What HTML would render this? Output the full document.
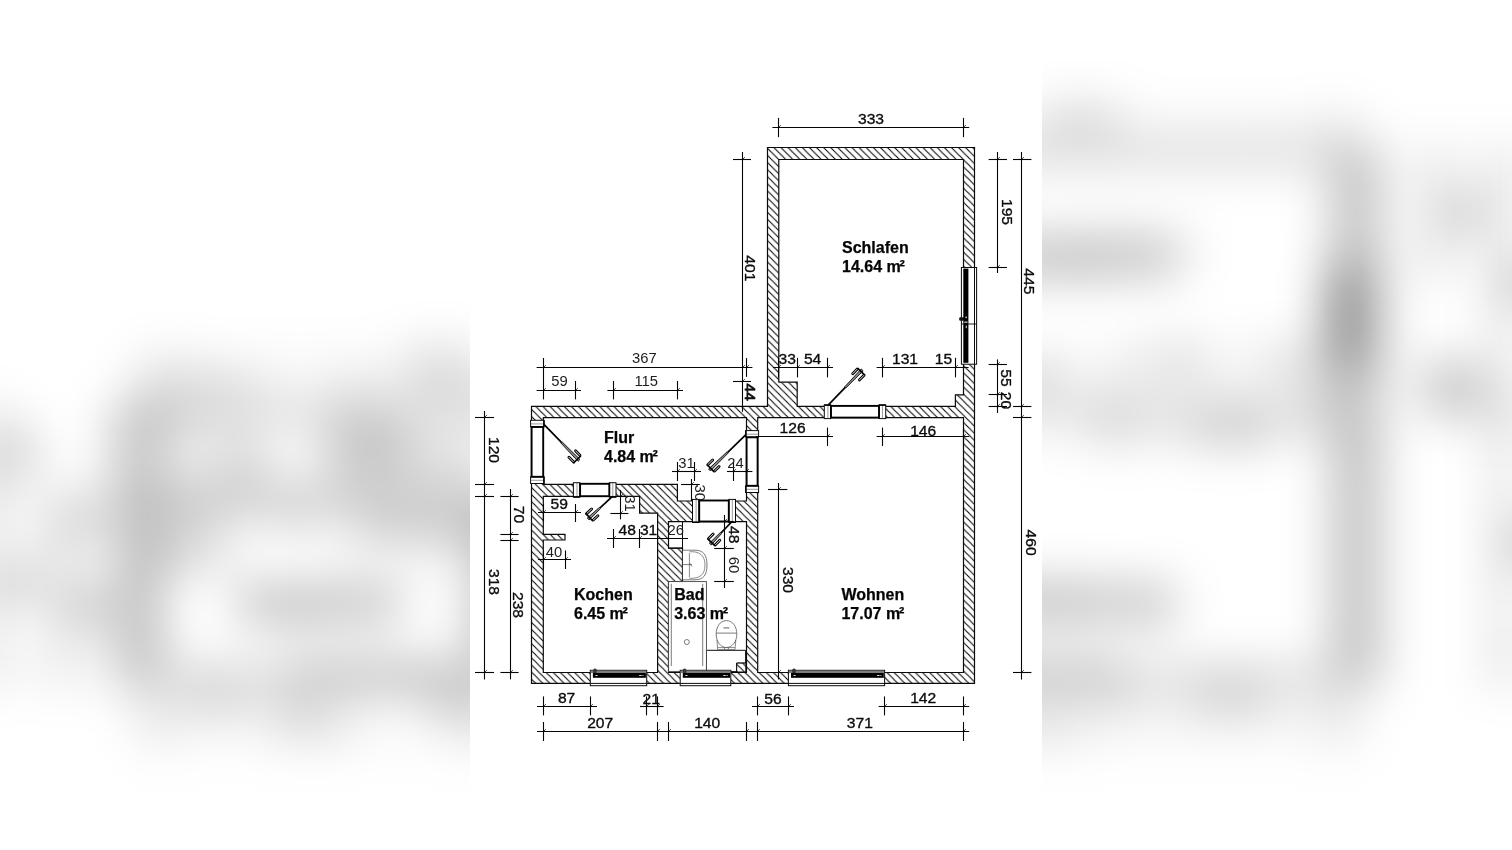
<!DOCTYPE html>
<html><head><meta charset="utf-8"><title>Grundriss</title>
<style>
html,body{margin:0;padding:0;background:#fff;}
body{width:1512px;height:850px;overflow:hidden;position:relative;font-family:"Liberation Sans",sans-serif;}
svg text{font-family:"Liberation Sans",sans-serif;}
#bg{position:absolute;left:0;top:0;width:1512px;height:850px;overflow:hidden;background:#fff;}
#bg svg{position:absolute;left:-50.52px;top:0px;width:1613.04px;height:850px;filter:blur(25px);opacity:1;}
#fg{position:absolute;left:470px;top:0;width:572px;height:850px;background:#fff;will-change:transform;}
</style></head><body>
<svg width="0" height="0" style="position:absolute">
<defs>
<pattern id="hatch" patternUnits="userSpaceOnUse" x="1.5" y="0" width="7.1" height="7.1">
<rect width="7.1" height="7.1" fill="#fff"/>
<path d="M-1 -1 L8.1 8.1 M-1 6.1 L1 8.1 M6.1 -1 L8.1 1" stroke="#000" stroke-width="1.05" fill="none"/>
</pattern>
<g id="plan">
<path d="M767.5 147.5 L974.5 147.5 L974.5 683.4 L531.5 683.4 L531.5 406.4 L767.5 406.4 Z M778.8 159.5 L963.5 159.5 L963.5 394.8 L955.4 394.8 L955.4 406.4 L797.2 406.4 L797.2 382.2 L778.8 382.2 Z M757.7 417.7 L963.5 417.7 L963.5 672.5 L757.7 672.5 Z M543.3 417.7 L746.5 417.7 L746.5 501 L677.4 501 L677.4 484.3 L543.3 484.3 Z M543.3 496.3 L639.6 496.3 L639.6 513.2 L657.6 513.2 L657.6 672.5 L543.3 672.5 L543.3 540 L565 540 L565 534.4 L543.3 534.4 Z M668.5 521.6 L746.5 521.6 L746.5 672.5 L668.5 672.5 L668.5 581.6 L682.5 581.6 L682.5 548.2 L668.5 548.2 Z" fill="url(#hatch)" fill-rule="evenodd" stroke="#0a0a0a" stroke-width="1.2" stroke-linejoin="miter"/>
<line x1="682.5" y1="521.6" x2="682.5" y2="581.6" stroke="#0a0a0a" stroke-width="1.0" />
<line x1="668.5" y1="548.2" x2="682.5" y2="548.2" stroke="#0a0a0a" stroke-width="1.0" />
<path d="M706.4 650.3 L745.6 650.3 L745.6 663.1 L736.7 663.1 L736.7 671.6 L706.4 671.6 Z" stroke="#0a0a0a" stroke-width="1.0" fill="#fff" />
<path d="M736.7 663.1 L745.8 663.1 L745.8 672 L736.7 672 Z" stroke="#0a0a0a" stroke-width="1.0" fill="url(#hatch)" />
<rect x="668.6" y="581.6" width="37.8" height="89.8" stroke="#444" stroke-width="0.9" fill="#fff"/>
<line x1="671.3" y1="583.8" x2="671.3" y2="666" stroke="#5a5a5a" stroke-width="0.8" />
<line x1="702.7" y1="583.8" x2="702.7" y2="666" stroke="#5a5a5a" stroke-width="0.8" />
<circle cx="686.8" cy="642" r="2.5" stroke="#5a5a5a" stroke-width="0.8" fill="none"/>
<path d="M682.8 550.2 L695 550.2 C703.5 550.2 707 555 707 565 C707 575 703.5 579.8 695 579.8 L682.8 579.8" stroke="#5a5a5a" stroke-width="0.8" fill="#fff"/>
<path d="M689.4 553 L689.4 577 M689.4 551.8 C699 551 705 555 705 565 C705 575 699 579 689.4 578.2" stroke="#5a5a5a" stroke-width="0.7" fill="none"/>
<path d="M683 564.6 L692 564.6 M689.4 563 L692 566.5" stroke="#5a5a5a" stroke-width="0.8" fill="none"/>
<path d="M726.4 620.6 C733 620.6 736.8 627 736.8 634 C736.8 642 732 647.5 726.4 647.5 C720.8 647.5 716.2 642 716.2 634 C716.2 627 720 620.6 726.4 620.6 Z" stroke="#5a5a5a" stroke-width="0.8" fill="#fff"/>
<line x1="716.4" y1="633.1" x2="736.6" y2="633.1" stroke="#5a5a5a" stroke-width="0.8" />
<line x1="723.5" y1="627.9" x2="729.4" y2="627.9" stroke="#777" stroke-width="1.2" />
<path d="M717 640 L717.6 649.6 L735 649.6 L735.8 640 M717.6 647.6 L735 647.6 M724.5 647.6 L724.5 649.6 M728.4 647.6 L728.4 649.6" stroke="#5a5a5a" stroke-width="0.7" fill="none"/>
<rect x="824.3" y="405.8" width="61.2" height="12.5" fill="#fff"/>
<rect x="824.3" y="404.8" width="6.5" height="13.8" stroke="#0a0a0a" stroke-width="1.0" fill="#fff"/>
<rect x="879" y="404.8" width="6.7" height="13.8" stroke="#0a0a0a" stroke-width="1.0" fill="#fff"/>
<line x1="827.9" y1="405" x2="827.9" y2="418.5" stroke="#555" stroke-width="0.6" />
<line x1="882.5" y1="405" x2="882.5" y2="418.5" stroke="#555" stroke-width="0.6" />
<rect x="831" y="405.9" width="48" height="11.7" stroke="#000" stroke-width="1.9" fill="#fff"/>
<line x1="824.3" y1="405.2" x2="830.8" y2="405.2" stroke="#000" stroke-width="1.4" />
<line x1="879" y1="405.2" x2="885.7" y2="405.2" stroke="#000" stroke-width="1.4" />
<line x1="828.4" y1="404.9" x2="845.3" y2="387.4" stroke="#000" stroke-width="1.7" />
<path d="M845.88 387.96 L863.17 370.84 L861.23 368.96 L844.72 386.84 Z" stroke="#000" stroke-width="0.85" fill="#8a8a8a" />
<line x1="859.34" y1="380.06" x2="864.06" y2="375.17" stroke="#000" stroke-width="2.9" stroke-linecap="round"/>
<line x1="859.34" y1="380.06" x2="864.06" y2="375.17" stroke="#fff" stroke-width="0.9" stroke-linecap="round"/>
<line x1="852.72" y1="373.67" x2="857.09" y2="369.14" stroke="#000" stroke-width="2.9" stroke-linecap="round"/>
<line x1="852.72" y1="373.67" x2="857.09" y2="369.14" stroke="#fff" stroke-width="0.9" stroke-linecap="round"/>
<line x1="857.5" y1="368.14" x2="864.7" y2="375.09" stroke="#000" stroke-width="1.7" />
<rect x="530.9" y="420.3" width="13" height="63" fill="#fff"/>
<rect x="530.6" y="420.3" width="13.6" height="6.5" stroke="#0a0a0a" stroke-width="1.0" fill="#fff"/>
<rect x="530.6" y="476.8" width="13.6" height="6.7" stroke="#0a0a0a" stroke-width="1.0" fill="#fff"/>
<line x1="530.7" y1="423.9" x2="544.1" y2="423.9" stroke="#555" stroke-width="0.6" />
<line x1="530.7" y1="480.3" x2="544.1" y2="480.3" stroke="#555" stroke-width="0.6" />
<rect x="531.6" y="427" width="11.6" height="49.8" stroke="#000" stroke-width="1.9" fill="#fff"/>
<line x1="543.8" y1="420.3" x2="543.8" y2="426.8" stroke="#000" stroke-width="1.4" />
<line x1="543.8" y1="476.8" x2="543.8" y2="483.5" stroke="#000" stroke-width="1.4" />
<line x1="543.9" y1="424.4" x2="561.45" y2="442.4" stroke="#000" stroke-width="1.7" />
<path d="M560.87 442.97 L578.03 461.34 L579.97 459.46 L562.03 441.83 Z" stroke="#000" stroke-width="0.85" fill="#8a8a8a" />
<line x1="568.93" y1="457.23" x2="573.67" y2="462.1" stroke="#000" stroke-width="2.9" stroke-linecap="round"/>
<line x1="568.93" y1="457.23" x2="573.67" y2="462.1" stroke="#fff" stroke-width="0.9" stroke-linecap="round"/>
<line x1="575.51" y1="450.81" x2="579.91" y2="455.32" stroke="#000" stroke-width="2.9" stroke-linecap="round"/>
<line x1="575.51" y1="450.81" x2="579.91" y2="455.32" stroke="#fff" stroke-width="0.9" stroke-linecap="round"/>
<line x1="580.9" y1="455.76" x2="573.74" y2="462.74" stroke="#000" stroke-width="1.7" />
<rect x="745.9" y="430.6" width="12.4" height="61.7" fill="#fff"/>
<rect x="745.6" y="430.6" width="13" height="6.5" stroke="#0a0a0a" stroke-width="1.0" fill="#fff"/>
<rect x="745.6" y="485.8" width="13" height="6.7" stroke="#0a0a0a" stroke-width="1.0" fill="#fff"/>
<line x1="745.7" y1="434.2" x2="758.5" y2="434.2" stroke="#555" stroke-width="0.6" />
<line x1="745.7" y1="489.3" x2="758.5" y2="489.3" stroke="#555" stroke-width="0.6" />
<rect x="746.6" y="437.3" width="11" height="48.5" stroke="#000" stroke-width="1.9" fill="#fff"/>
<line x1="746" y1="430.6" x2="746" y2="437.1" stroke="#000" stroke-width="1.4" />
<line x1="746" y1="485.8" x2="746" y2="492.5" stroke="#000" stroke-width="1.4" />
<line x1="745.9" y1="434.7" x2="727.7" y2="452.35" stroke="#000" stroke-width="1.7" />
<path d="M727.14 451.77 L708.56 469.03 L710.44 470.97 L728.26 452.93 Z" stroke="#000" stroke-width="0.85" fill="#8a8a8a" />
<line x1="712.7" y1="459.94" x2="707.81" y2="464.67" stroke="#000" stroke-width="2.9" stroke-linecap="round"/>
<line x1="712.7" y1="459.94" x2="707.81" y2="464.67" stroke="#fff" stroke-width="0.9" stroke-linecap="round"/>
<line x1="719.1" y1="466.54" x2="714.58" y2="470.93" stroke="#000" stroke-width="2.9" stroke-linecap="round"/>
<line x1="719.1" y1="466.54" x2="714.58" y2="470.93" stroke="#fff" stroke-width="0.9" stroke-linecap="round"/>
<line x1="714.14" y1="471.91" x2="707.18" y2="464.73" stroke="#000" stroke-width="1.7" />
<rect x="573.4" y="483.7" width="42.4" height="13.2" fill="#fff"/>
<rect x="573.4" y="482.7" width="6.5" height="14.5" stroke="#0a0a0a" stroke-width="1.0" fill="#fff"/>
<rect x="609.3" y="482.7" width="6.7" height="14.5" stroke="#0a0a0a" stroke-width="1.0" fill="#fff"/>
<line x1="577" y1="482.9" x2="577" y2="497.1" stroke="#555" stroke-width="0.6" />
<line x1="612.8" y1="482.9" x2="612.8" y2="497.1" stroke="#555" stroke-width="0.6" />
<rect x="580.1" y="483.8" width="29.2" height="12.4" stroke="#000" stroke-width="1.9" fill="#fff"/>
<line x1="573.4" y1="496.8" x2="579.9" y2="496.8" stroke="#000" stroke-width="1.4" />
<line x1="609.3" y1="496.8" x2="616" y2="496.8" stroke="#000" stroke-width="1.4" />
<line x1="611.9" y1="496.9" x2="600.05" y2="507.95" stroke="#000" stroke-width="1.7" />
<path d="M599.5 507.36 L587.28 518.01 L589.12 519.99 L600.6 508.54 Z" stroke="#000" stroke-width="0.85" fill="#8a8a8a" />
<line x1="591.59" y1="509" x2="586.62" y2="513.64" stroke="#000" stroke-width="2.9" stroke-linecap="round"/>
<line x1="591.59" y1="509" x2="586.62" y2="513.64" stroke="#fff" stroke-width="0.9" stroke-linecap="round"/>
<line x1="597.87" y1="515.73" x2="593.26" y2="520.03" stroke="#000" stroke-width="2.9" stroke-linecap="round"/>
<line x1="597.87" y1="515.73" x2="593.26" y2="520.03" stroke="#fff" stroke-width="0.9" stroke-linecap="round"/>
<line x1="592.8" y1="521" x2="585.98" y2="513.69" stroke="#000" stroke-width="1.7" />
<rect x="692.5" y="500.4" width="42.8" height="21.8" fill="#fff"/>
<rect x="692.5" y="499.4" width="6.5" height="23.1" stroke="#0a0a0a" stroke-width="1.0" fill="#fff"/>
<rect x="728.8" y="499.4" width="6.7" height="23.1" stroke="#0a0a0a" stroke-width="1.0" fill="#fff"/>
<line x1="696.1" y1="499.6" x2="696.1" y2="522.4" stroke="#555" stroke-width="0.6" />
<line x1="732.3" y1="499.6" x2="732.3" y2="522.4" stroke="#555" stroke-width="0.6" />
<rect x="699.2" y="500.5" width="29.6" height="21" stroke="#000" stroke-width="1.9" fill="#fff"/>
<line x1="692.5" y1="522.1" x2="699" y2="522.1" stroke="#000" stroke-width="1.4" />
<line x1="728.8" y1="522.1" x2="735.5" y2="522.1" stroke="#000" stroke-width="1.4" />
<line x1="731.4" y1="522.2" x2="720.85" y2="533.15" stroke="#000" stroke-width="1.7" />
<path d="M720.27 532.59 L709.33 543.16 L711.27 545.04 L721.43 533.71 Z" stroke="#000" stroke-width="0.85" fill="#8a8a8a" />
<line x1="713.15" y1="533.93" x2="708.43" y2="538.83" stroke="#000" stroke-width="2.9" stroke-linecap="round"/>
<line x1="713.15" y1="533.93" x2="708.43" y2="538.83" stroke="#fff" stroke-width="0.9" stroke-linecap="round"/>
<line x1="719.78" y1="540.32" x2="715.41" y2="544.85" stroke="#000" stroke-width="2.9" stroke-linecap="round"/>
<line x1="719.78" y1="540.32" x2="715.41" y2="544.85" stroke="#fff" stroke-width="0.9" stroke-linecap="round"/>
<line x1="715" y1="545.85" x2="707.8" y2="538.91" stroke="#000" stroke-width="1.7" />
<rect x="590.3" y="670.3" width="56.4" height="15.4" fill="#fff" stroke="#0a0a0a" stroke-width="1"/>
<rect x="590.8" y="670.7" width="55.4" height="2.4" fill="#7d7d7d"/>
<rect x="592.9" y="673.0" width="53" height="4.8" fill="#000"/>
<line x1="590.3" y1="683.4" x2="646.7" y2="683.4" stroke="#0a0a0a" stroke-width="1.0" />
<rect x="595.5" y="675.0" width="2" height="0.9" fill="#fff"/>
<rect x="639.2" y="675.0" width="2.4" height="0.9" fill="#fff"/>
<rect x="642.5" y="675.0" width="1" height="0.9" fill="#fff"/>
<rect x="593.8" y="668.9" width="2.4" height="4.3" rx="0.8" fill="#444" stroke="#0a0a0a" stroke-width="0.6"/>
<rect x="680.2" y="670.3" width="50.6" height="15.4" fill="#fff" stroke="#0a0a0a" stroke-width="1"/>
<rect x="680.7" y="670.7" width="49.6" height="2.4" fill="#7d7d7d"/>
<rect x="682.8" y="673.0" width="47.2" height="4.8" fill="#000"/>
<line x1="680.2" y1="683.4" x2="730.8" y2="683.4" stroke="#0a0a0a" stroke-width="1.0" />
<rect x="685.4" y="675.0" width="2" height="0.9" fill="#fff"/>
<rect x="723.3" y="675.0" width="2.4" height="0.9" fill="#fff"/>
<rect x="726.6" y="675.0" width="1" height="0.9" fill="#fff"/>
<rect x="683.4" y="668.9" width="2.4" height="4.3" rx="0.8" fill="#444" stroke="#0a0a0a" stroke-width="0.6"/>
<rect x="788.4" y="670.3" width="96.2" height="15.4" fill="#fff" stroke="#0a0a0a" stroke-width="1"/>
<rect x="788.9" y="670.7" width="95.2" height="2.4" fill="#7d7d7d"/>
<rect x="791" y="673.0" width="92.8" height="4.8" fill="#000"/>
<line x1="788.4" y1="683.4" x2="884.6" y2="683.4" stroke="#0a0a0a" stroke-width="1.0" />
<rect x="793.6" y="675.0" width="2" height="0.9" fill="#fff"/>
<rect x="877.1" y="675.0" width="2.4" height="0.9" fill="#fff"/>
<rect x="880.4" y="675.0" width="1" height="0.9" fill="#fff"/>
<rect x="792.8" y="668.9" width="2.4" height="4.3" rx="0.8" fill="#444" stroke="#0a0a0a" stroke-width="0.6"/>
<rect x="961.4" y="267.5" width="15.2" height="96.7" fill="#fff" stroke="#0a0a0a" stroke-width="1"/>
<rect x="963.3" y="268.6" width="5.1" height="94.2" fill="#000"/>
<line x1="974.5" y1="267.5" x2="974.5" y2="364.2" stroke="#0a0a0a" stroke-width="1.0" />
<line x1="961.4" y1="324" x2="976.6" y2="324" stroke="#0a0a0a" stroke-width="0.9" />
<rect x="959.2" y="317.2" width="5" height="3.6" rx="1.2" fill="#111"/>
<rect x="965.5" y="316.6" width="1.2" height="1.6" fill="#fff"/>
<rect x="964.2" y="321.6" width="3.4" height="1.0" fill="#fff"/>
<rect x="965.8" y="325.6" width="0.9" height="2.6" fill="#fff"/>
<line x1="772.4" y1="127.5" x2="969.2" y2="127.5" stroke="#050505" stroke-width="1.1" />
<line x1="778.5" y1="117.9" x2="778.5" y2="137.1" stroke="#050505" stroke-width="1.1" />
<line x1="778.8" y1="127.2" x2="780.9" y2="125.1" stroke="#050505" stroke-width="0.7" />
<line x1="963.5" y1="117.9" x2="963.5" y2="137.1" stroke="#050505" stroke-width="1.1" />
<line x1="963.8" y1="127.2" x2="965.9" y2="125.1" stroke="#050505" stroke-width="0.7" />
<text transform="translate(871 123.8) scale(1.05 1)" font-size="14.9" text-anchor="middle" fill="#0d0d0d" stroke="#0d0d0d" stroke-width="0.34">333</text>
<line x1="536.6" y1="367.5" x2="752.4" y2="367.5" stroke="#050505" stroke-width="1.1" />
<line x1="543.5" y1="358" x2="543.5" y2="399.4" stroke="#050505" stroke-width="1.1" />
<line x1="543.8" y1="367.2" x2="545.9" y2="365.1" stroke="#050505" stroke-width="0.7" />
<line x1="746.5" y1="358.1" x2="746.5" y2="376.9" stroke="#050505" stroke-width="1.1" />
<line x1="746.8" y1="367.2" x2="748.9" y2="365.1" stroke="#050505" stroke-width="0.7" />
<text transform="translate(644.4 363.3)" font-size="14.8" text-anchor="middle" fill="#1e1e1e">367</text>
<line x1="536.6" y1="390.5" x2="581" y2="390.5" stroke="#050505" stroke-width="1.1" />
<line x1="607.4" y1="390.5" x2="683" y2="390.5" stroke="#050505" stroke-width="1.1" />
<line x1="575.5" y1="381" x2="575.5" y2="399.4" stroke="#050505" stroke-width="1.1" />
<line x1="575.8" y1="390.2" x2="577.9" y2="388.1" stroke="#050505" stroke-width="0.7" />
<line x1="613.5" y1="381" x2="613.5" y2="399.4" stroke="#050505" stroke-width="1.1" />
<line x1="613.8" y1="390.2" x2="615.9" y2="388.1" stroke="#050505" stroke-width="0.7" />
<line x1="677.5" y1="381" x2="677.5" y2="399.4" stroke="#050505" stroke-width="1.1" />
<line x1="677.8" y1="390.2" x2="679.9" y2="388.1" stroke="#050505" stroke-width="0.7" />
<line x1="543.8" y1="390.2" x2="545.9" y2="388.1" stroke="#050505" stroke-width="0.7" />
<text transform="translate(559.6 385.7)" font-size="14.8" text-anchor="middle" fill="#1e1e1e">59</text>
<text transform="translate(646.2 385.7)" font-size="14.8" text-anchor="middle" fill="#1e1e1e">115</text>
<line x1="773" y1="367.5" x2="833" y2="367.5" stroke="#050505" stroke-width="1.1" />
<line x1="876.6" y1="367.5" x2="968.6" y2="367.5" stroke="#050505" stroke-width="1.1" />
<line x1="778.5" y1="357.8" x2="778.5" y2="377.4" stroke="#050505" stroke-width="1.1" />
<line x1="778.8" y1="367.2" x2="780.9" y2="365.1" stroke="#050505" stroke-width="0.7" />
<line x1="797.5" y1="357.8" x2="797.5" y2="377.4" stroke="#050505" stroke-width="1.1" />
<line x1="797.8" y1="367.2" x2="799.9" y2="365.1" stroke="#050505" stroke-width="0.7" />
<line x1="827.5" y1="357.8" x2="827.5" y2="377.4" stroke="#050505" stroke-width="1.1" />
<line x1="827.8" y1="367.2" x2="829.9" y2="365.1" stroke="#050505" stroke-width="0.7" />
<line x1="882.5" y1="357.8" x2="882.5" y2="377.4" stroke="#050505" stroke-width="1.1" />
<line x1="882.8" y1="367.2" x2="884.9" y2="365.1" stroke="#050505" stroke-width="0.7" />
<line x1="955.5" y1="357.8" x2="955.5" y2="377.4" stroke="#050505" stroke-width="1.1" />
<line x1="955.8" y1="367.2" x2="957.9" y2="365.1" stroke="#050505" stroke-width="0.7" />
<text transform="translate(787.2 363.8) scale(1.05 1)" font-size="14.9" text-anchor="middle" fill="#0d0d0d" stroke="#0d0d0d" stroke-width="0.34">33</text>
<text transform="translate(812.6 363.8) scale(1.05 1)" font-size="14.9" text-anchor="middle" fill="#0d0d0d" stroke="#0d0d0d" stroke-width="0.34">54</text>
<text transform="translate(905 363.8) scale(1.05 1)" font-size="14.9" text-anchor="middle" fill="#0d0d0d" stroke="#0d0d0d" stroke-width="0.34">131</text>
<text transform="translate(943.4 363.8) scale(1.05 1)" font-size="14.9" text-anchor="middle" fill="#0d0d0d" stroke="#0d0d0d" stroke-width="0.34">15</text>
<line x1="756" y1="436.5" x2="833" y2="436.5" stroke="#050505" stroke-width="1.1" />
<line x1="876.6" y1="436.5" x2="969.2" y2="436.5" stroke="#050505" stroke-width="1.1" />
<line x1="827.5" y1="427.6" x2="827.5" y2="446" stroke="#050505" stroke-width="1.1" />
<line x1="827.8" y1="436.2" x2="829.9" y2="434.1" stroke="#050505" stroke-width="0.7" />
<line x1="882.5" y1="427.6" x2="882.5" y2="446" stroke="#050505" stroke-width="1.1" />
<line x1="882.8" y1="436.2" x2="884.9" y2="434.1" stroke="#050505" stroke-width="0.7" />
<line x1="963.5" y1="427.6" x2="963.5" y2="446" stroke="#050505" stroke-width="1.1" />
<line x1="963.8" y1="436.2" x2="965.9" y2="434.1" stroke="#050505" stroke-width="0.7" />
<text transform="translate(792.6 433.2) scale(1.05 1)" font-size="14.9" text-anchor="middle" fill="#0d0d0d" stroke="#0d0d0d" stroke-width="0.34">126</text>
<text transform="translate(923.2 436.2) scale(1.05 1)" font-size="14.9" text-anchor="middle" fill="#0d0d0d" stroke="#0d0d0d" stroke-width="0.34">146</text>
<line x1="672" y1="471.5" x2="701" y2="471.5" stroke="#050505" stroke-width="1.1" />
<line x1="727" y1="471.5" x2="752.4" y2="471.5" stroke="#050505" stroke-width="1.1" />
<line x1="677.5" y1="462" x2="677.5" y2="481" stroke="#050505" stroke-width="1.1" />
<line x1="677.8" y1="471.2" x2="679.9" y2="469.1" stroke="#050505" stroke-width="0.7" />
<line x1="694.5" y1="462" x2="694.5" y2="481" stroke="#050505" stroke-width="1.1" />
<line x1="694.8" y1="471.2" x2="696.9" y2="469.1" stroke="#050505" stroke-width="0.7" />
<line x1="733.5" y1="462" x2="733.5" y2="481" stroke="#050505" stroke-width="1.1" />
<line x1="733.8" y1="471.2" x2="735.9" y2="469.1" stroke="#050505" stroke-width="0.7" />
<line x1="746.5" y1="462" x2="746.5" y2="481" stroke="#050505" stroke-width="1.1" />
<line x1="746.8" y1="471.2" x2="748.9" y2="469.1" stroke="#050505" stroke-width="0.7" />
<text transform="translate(686.4 468.4)" font-size="14.8" text-anchor="middle" fill="#1e1e1e">31</text>
<text transform="translate(735.4 468.4)" font-size="14.8" text-anchor="middle" fill="#1e1e1e">24</text>
<line x1="538" y1="512.5" x2="581" y2="512.5" stroke="#050505" stroke-width="1.1" />
<line x1="543.5" y1="504" x2="543.5" y2="522" stroke="#050505" stroke-width="1.1" />
<line x1="543.8" y1="512.2" x2="545.9" y2="510.1" stroke="#050505" stroke-width="0.7" />
<line x1="575.5" y1="504" x2="575.5" y2="522" stroke="#050505" stroke-width="1.1" />
<line x1="575.8" y1="512.2" x2="577.9" y2="510.1" stroke="#050505" stroke-width="0.7" />
<text transform="translate(559.2 509) scale(1.05 1)" font-size="14.9" text-anchor="middle" fill="#0d0d0d" stroke="#0d0d0d" stroke-width="0.34">59</text>
<line x1="607" y1="538.5" x2="688" y2="538.5" stroke="#050505" stroke-width="1.1" />
<line x1="613.5" y1="529" x2="613.5" y2="548" stroke="#050505" stroke-width="1.1" />
<line x1="613.8" y1="538.2" x2="615.9" y2="536.1" stroke="#050505" stroke-width="0.7" />
<line x1="639.5" y1="529" x2="639.5" y2="548" stroke="#050505" stroke-width="1.1" />
<line x1="639.8" y1="538.2" x2="641.9" y2="536.1" stroke="#050505" stroke-width="0.7" />
<text transform="translate(627.2 535) scale(1.05 1)" font-size="14.9" text-anchor="middle" fill="#0d0d0d" stroke="#0d0d0d" stroke-width="0.34">48</text>
<text transform="translate(648.6 535) scale(1.05 1)" font-size="14.9" text-anchor="middle" fill="#0d0d0d" stroke="#0d0d0d" stroke-width="0.34">31</text>
<text transform="translate(675.8 535.2)" font-size="14.8" text-anchor="middle" fill="#1e1e1e">26</text>
<line x1="538" y1="559.5" x2="571" y2="559.5" stroke="#050505" stroke-width="1.1" />
<line x1="543.5" y1="550.4" x2="543.5" y2="569" stroke="#050505" stroke-width="1.1" />
<line x1="543.8" y1="559.2" x2="545.9" y2="557.1" stroke="#050505" stroke-width="0.7" />
<line x1="565.5" y1="550.4" x2="565.5" y2="569" stroke="#050505" stroke-width="1.1" />
<line x1="565.8" y1="559.2" x2="567.9" y2="557.1" stroke="#050505" stroke-width="0.7" />
<text transform="translate(554 556.8)" font-size="14.8" text-anchor="middle" fill="#1e1e1e">40</text>
<line x1="537" y1="706.5" x2="597" y2="706.5" stroke="#050505" stroke-width="1.1" />
<line x1="640" y1="706.5" x2="663.6" y2="706.5" stroke="#050505" stroke-width="1.1" />
<line x1="752" y1="706.5" x2="794" y2="706.5" stroke="#050505" stroke-width="1.1" />
<line x1="878.6" y1="706.5" x2="969.2" y2="706.5" stroke="#050505" stroke-width="1.1" />
<line x1="543.5" y1="696.4" x2="543.5" y2="715.4" stroke="#050505" stroke-width="1.1" />
<line x1="543.8" y1="706.2" x2="545.9" y2="704.1" stroke="#050505" stroke-width="0.7" />
<line x1="590.5" y1="696.4" x2="590.5" y2="715.4" stroke="#050505" stroke-width="1.1" />
<line x1="590.8" y1="706.2" x2="592.9" y2="704.1" stroke="#050505" stroke-width="0.7" />
<line x1="646.5" y1="696.4" x2="646.5" y2="715.4" stroke="#050505" stroke-width="1.1" />
<line x1="646.8" y1="706.2" x2="648.9" y2="704.1" stroke="#050505" stroke-width="0.7" />
<line x1="657.5" y1="696.4" x2="657.5" y2="715.4" stroke="#050505" stroke-width="1.1" />
<line x1="657.8" y1="706.2" x2="659.9" y2="704.1" stroke="#050505" stroke-width="0.7" />
<line x1="757.5" y1="696.4" x2="757.5" y2="715.4" stroke="#050505" stroke-width="1.1" />
<line x1="757.8" y1="706.2" x2="759.9" y2="704.1" stroke="#050505" stroke-width="0.7" />
<line x1="788.5" y1="696.4" x2="788.5" y2="715.4" stroke="#050505" stroke-width="1.1" />
<line x1="788.8" y1="706.2" x2="790.9" y2="704.1" stroke="#050505" stroke-width="0.7" />
<line x1="884.5" y1="696.4" x2="884.5" y2="715.4" stroke="#050505" stroke-width="1.1" />
<line x1="884.8" y1="706.2" x2="886.9" y2="704.1" stroke="#050505" stroke-width="0.7" />
<line x1="963.5" y1="696.4" x2="963.5" y2="715.4" stroke="#050505" stroke-width="1.1" />
<line x1="963.8" y1="706.2" x2="965.9" y2="704.1" stroke="#050505" stroke-width="0.7" />
<text transform="translate(566.6 702.8) scale(1.05 1)" font-size="14.9" text-anchor="middle" fill="#0d0d0d" stroke="#0d0d0d" stroke-width="0.34">87</text>
<text transform="translate(651.2 704.2) scale(1.05 1)" font-size="14.9" text-anchor="middle" fill="#0d0d0d" stroke="#0d0d0d" stroke-width="0.34">21</text>
<text transform="translate(773 704.2) scale(1.05 1)" font-size="14.9" text-anchor="middle" fill="#0d0d0d" stroke="#0d0d0d" stroke-width="0.34">56</text>
<text transform="translate(923.2 702.8) scale(1.05 1)" font-size="14.9" text-anchor="middle" fill="#0d0d0d" stroke="#0d0d0d" stroke-width="0.34">142</text>
<line x1="537" y1="731.5" x2="969.2" y2="731.5" stroke="#050505" stroke-width="1.1" />
<line x1="543.5" y1="722" x2="543.5" y2="741" stroke="#050505" stroke-width="1.1" />
<line x1="543.8" y1="731.2" x2="545.9" y2="729.1" stroke="#050505" stroke-width="0.7" />
<line x1="657.5" y1="722" x2="657.5" y2="741" stroke="#050505" stroke-width="1.1" />
<line x1="657.8" y1="731.2" x2="659.9" y2="729.1" stroke="#050505" stroke-width="0.7" />
<line x1="668.5" y1="722" x2="668.5" y2="741" stroke="#050505" stroke-width="1.1" />
<line x1="668.8" y1="731.2" x2="670.9" y2="729.1" stroke="#050505" stroke-width="0.7" />
<line x1="746.5" y1="722" x2="746.5" y2="741" stroke="#050505" stroke-width="1.1" />
<line x1="746.8" y1="731.2" x2="748.9" y2="729.1" stroke="#050505" stroke-width="0.7" />
<line x1="757.5" y1="722" x2="757.5" y2="741" stroke="#050505" stroke-width="1.1" />
<line x1="757.8" y1="731.2" x2="759.9" y2="729.1" stroke="#050505" stroke-width="0.7" />
<line x1="963.5" y1="722" x2="963.5" y2="741" stroke="#050505" stroke-width="1.1" />
<line x1="963.8" y1="731.2" x2="965.9" y2="729.1" stroke="#050505" stroke-width="0.7" />
<text transform="translate(600.2 727.8) scale(1.05 1)" font-size="14.9" text-anchor="middle" fill="#0d0d0d" stroke="#0d0d0d" stroke-width="0.34">207</text>
<text transform="translate(707.2 727.8) scale(1.05 1)" font-size="14.9" text-anchor="middle" fill="#0d0d0d" stroke="#0d0d0d" stroke-width="0.34">140</text>
<text transform="translate(859.8 727.8) scale(1.05 1)" font-size="14.9" text-anchor="middle" fill="#0d0d0d" stroke="#0d0d0d" stroke-width="0.34">371</text>
<line x1="997.5" y1="152" x2="997.5" y2="273" stroke="#050505" stroke-width="1.1" />
<line x1="997.5" y1="359.4" x2="997.5" y2="413" stroke="#050505" stroke-width="1.1" />
<line x1="988.6" y1="159.5" x2="1007" y2="159.5" stroke="#050505" stroke-width="1.1" />
<line x1="997.8" y1="159.2" x2="999.9" y2="157.1" stroke="#050505" stroke-width="0.7" />
<line x1="988.6" y1="267.5" x2="1007" y2="267.5" stroke="#050505" stroke-width="1.1" />
<line x1="997.8" y1="267.2" x2="999.9" y2="265.1" stroke="#050505" stroke-width="0.7" />
<line x1="988.6" y1="364.5" x2="1007" y2="364.5" stroke="#050505" stroke-width="1.1" />
<line x1="997.8" y1="364.2" x2="999.9" y2="362.1" stroke="#050505" stroke-width="0.7" />
<line x1="988.6" y1="394.5" x2="1007" y2="394.5" stroke="#050505" stroke-width="1.1" />
<line x1="997.8" y1="394.2" x2="999.9" y2="392.1" stroke="#050505" stroke-width="0.7" />
<line x1="988.6" y1="406.5" x2="1007" y2="406.5" stroke="#050505" stroke-width="1.1" />
<line x1="997.8" y1="406.2" x2="999.9" y2="404.1" stroke="#050505" stroke-width="0.7" />
<text transform="translate(1002.27 212) rotate(90) scale(1.05 1)" font-size="14.9" text-anchor="middle" fill="#0d0d0d" stroke="#0d0d0d" stroke-width="0.34">195</text>
<text transform="translate(1001.07 378) rotate(90) scale(1.05 1)" font-size="14.9" text-anchor="middle" fill="#0d0d0d" stroke="#0d0d0d" stroke-width="0.34">55</text>
<text transform="translate(1001.07 400.4) rotate(90) scale(1.05 1)" font-size="14.9" text-anchor="middle" fill="#0d0d0d" stroke="#0d0d0d" stroke-width="0.34">20</text>
<line x1="1021.5" y1="152" x2="1021.5" y2="679.4" stroke="#050505" stroke-width="1.1" />
<line x1="1013" y1="159.5" x2="1031.4" y2="159.5" stroke="#050505" stroke-width="1.1" />
<line x1="1021.8" y1="159.2" x2="1023.9" y2="157.1" stroke="#050505" stroke-width="0.7" />
<line x1="1013" y1="406.5" x2="1031.4" y2="406.5" stroke="#050505" stroke-width="1.1" />
<line x1="1021.8" y1="406.2" x2="1023.9" y2="404.1" stroke="#050505" stroke-width="0.7" />
<line x1="1013" y1="417.5" x2="1031.4" y2="417.5" stroke="#050505" stroke-width="1.1" />
<line x1="1021.8" y1="417.2" x2="1023.9" y2="415.1" stroke="#050505" stroke-width="0.7" />
<line x1="1013" y1="672.5" x2="1031.4" y2="672.5" stroke="#050505" stroke-width="1.1" />
<line x1="1021.8" y1="672.2" x2="1023.9" y2="670.1" stroke="#050505" stroke-width="0.7" />
<text transform="translate(1023.67 281.4) rotate(90) scale(1.05 1)" font-size="14.9" text-anchor="middle" fill="#0d0d0d" stroke="#0d0d0d" stroke-width="0.34">445</text>
<text transform="translate(1025.87 542.6) rotate(90) scale(1.05 1)" font-size="14.9" text-anchor="middle" fill="#0d0d0d" stroke="#0d0d0d" stroke-width="0.34">460</text>
<line x1="742.5" y1="152" x2="742.5" y2="411.8" stroke="#050505" stroke-width="1.1" />
<line x1="733" y1="159.5" x2="751" y2="159.5" stroke="#050505" stroke-width="1.1" />
<line x1="742.8" y1="159.2" x2="744.9" y2="157.1" stroke="#050505" stroke-width="0.7" />
<line x1="733" y1="381.5" x2="751" y2="381.5" stroke="#050505" stroke-width="1.1" />
<line x1="742.8" y1="381.2" x2="744.9" y2="379.1" stroke="#050505" stroke-width="0.7" />
<line x1="742.8" y1="367.2" x2="744.9" y2="365.1" stroke="#050505" stroke-width="0.7" />
<text transform="translate(744.87 268.4) rotate(90) scale(1.05 1)" font-size="14.9" text-anchor="middle" fill="#0d0d0d" stroke="#0d0d0d" stroke-width="0.34">401</text>
<text transform="translate(745.27 392.2) rotate(90) scale(1.05 1)" font-size="14.9" text-anchor="middle" fill="#0d0d0d" stroke="#0d0d0d" stroke-width="0.7">44</text>
<line x1="484.5" y1="411" x2="484.5" y2="679.4" stroke="#050505" stroke-width="1.1" />
<line x1="475" y1="417.5" x2="494" y2="417.5" stroke="#050505" stroke-width="1.1" />
<line x1="484.8" y1="417.2" x2="486.9" y2="415.1" stroke="#050505" stroke-width="0.7" />
<line x1="475" y1="484.5" x2="494" y2="484.5" stroke="#050505" stroke-width="1.1" />
<line x1="484.8" y1="484.2" x2="486.9" y2="482.1" stroke="#050505" stroke-width="0.7" />
<line x1="475" y1="496.5" x2="494" y2="496.5" stroke="#050505" stroke-width="1.1" />
<line x1="484.8" y1="496.2" x2="486.9" y2="494.1" stroke="#050505" stroke-width="0.7" />
<line x1="475" y1="672.5" x2="494" y2="672.5" stroke="#050505" stroke-width="1.1" />
<line x1="484.8" y1="672.2" x2="486.9" y2="670.1" stroke="#050505" stroke-width="0.7" />
<text transform="translate(489.47 450) rotate(90) scale(1.05 1)" font-size="14.9" text-anchor="middle" fill="#0d0d0d" stroke="#0d0d0d" stroke-width="0.34">120</text>
<text transform="translate(489.47 582) rotate(90) scale(1.05 1)" font-size="14.9" text-anchor="middle" fill="#0d0d0d" stroke="#0d0d0d" stroke-width="0.34">318</text>
<line x1="510.5" y1="489" x2="510.5" y2="679.4" stroke="#050505" stroke-width="1.1" />
<line x1="500.4" y1="496.5" x2="518.6" y2="496.5" stroke="#050505" stroke-width="1.1" />
<line x1="510.8" y1="496.2" x2="512.9" y2="494.1" stroke="#050505" stroke-width="0.7" />
<line x1="500.4" y1="534.5" x2="518.6" y2="534.5" stroke="#050505" stroke-width="1.1" />
<line x1="510.8" y1="534.2" x2="512.9" y2="532.1" stroke="#050505" stroke-width="0.7" />
<line x1="500.4" y1="540.5" x2="518.6" y2="540.5" stroke="#050505" stroke-width="1.1" />
<line x1="510.8" y1="540.2" x2="512.9" y2="538.1" stroke="#050505" stroke-width="0.7" />
<line x1="500.4" y1="672.5" x2="518.6" y2="672.5" stroke="#050505" stroke-width="1.1" />
<line x1="510.8" y1="672.2" x2="512.9" y2="670.1" stroke="#050505" stroke-width="0.7" />
<text transform="translate(513.87 514.4) rotate(90) scale(1.05 1)" font-size="14.9" text-anchor="middle" fill="#0d0d0d" stroke="#0d0d0d" stroke-width="0.34">70</text>
<text transform="translate(513.47 605) rotate(90) scale(1.05 1)" font-size="14.9" text-anchor="middle" fill="#0d0d0d" stroke="#0d0d0d" stroke-width="0.34">238</text>
<line x1="778.5" y1="483" x2="778.5" y2="679.4" stroke="#050505" stroke-width="1.1" />
<line x1="768" y1="489.5" x2="787.4" y2="489.5" stroke="#050505" stroke-width="1.1" />
<line x1="778.8" y1="489.2" x2="780.9" y2="487.1" stroke="#050505" stroke-width="0.7" />
<line x1="778.8" y1="672.2" x2="780.9" y2="670.1" stroke="#050505" stroke-width="0.7" />
<text transform="translate(782.87 580) rotate(90) scale(1.05 1)" font-size="14.9" text-anchor="middle" fill="#0d0d0d" stroke="#0d0d0d" stroke-width="0.34">330</text>
<line x1="620.5" y1="490" x2="620.5" y2="519.4" stroke="#050505" stroke-width="1.1" />
<line x1="610.4" y1="496.5" x2="628.4" y2="496.5" stroke="#050505" stroke-width="1.1" />
<line x1="620.8" y1="496.2" x2="622.9" y2="494.1" stroke="#050505" stroke-width="0.7" />
<line x1="610.4" y1="513.5" x2="628.4" y2="513.5" stroke="#050505" stroke-width="1.1" />
<line x1="620.8" y1="513.2" x2="622.9" y2="511.1" stroke="#050505" stroke-width="0.7" />
<text transform="translate(625.1 503.6) rotate(90)" font-size="14.8" text-anchor="middle" fill="#1e1e1e">31</text>
<line x1="691.5" y1="479" x2="691.5" y2="501" stroke="#050505" stroke-width="1.1" />
<line x1="681" y1="484.5" x2="699.8" y2="484.5" stroke="#050505" stroke-width="1.1" />
<line x1="691.8" y1="484.2" x2="693.9" y2="482.1" stroke="#050505" stroke-width="0.7" />
<text transform="translate(695.3 492.8) rotate(90)" font-size="14.8" text-anchor="middle" fill="#1e1e1e">30</text>
<line x1="724.5" y1="515" x2="724.5" y2="588" stroke="#050505" stroke-width="1.1" />
<line x1="714.2" y1="521.5" x2="733.8" y2="521.5" stroke="#050505" stroke-width="1.1" />
<line x1="724.8" y1="521.2" x2="726.9" y2="519.1" stroke="#050505" stroke-width="0.7" />
<line x1="714.2" y1="548.5" x2="733.8" y2="548.5" stroke="#050505" stroke-width="1.1" />
<line x1="724.8" y1="548.2" x2="726.9" y2="546.1" stroke="#050505" stroke-width="0.7" />
<line x1="714.2" y1="581.5" x2="733.8" y2="581.5" stroke="#050505" stroke-width="1.1" />
<line x1="724.8" y1="581.2" x2="726.9" y2="579.1" stroke="#050505" stroke-width="0.7" />
<text transform="translate(728.67 534.8) rotate(90) scale(1.05 1)" font-size="14.9" text-anchor="middle" fill="#0d0d0d" stroke="#0d0d0d" stroke-width="0.34">48</text>
<text transform="translate(728.9 565) rotate(90)" font-size="14.8" text-anchor="middle" fill="#1e1e1e">60</text>
<text transform="translate(842 253.1)" font-size="16" font-weight="bold" text-anchor="start" fill="#050505" stroke="#050505" stroke-width="0.25">Schlafen</text>
<text transform="translate(842 272.1)" font-size="16" font-weight="bold" text-anchor="start" fill="#050505" stroke="#050505" stroke-width="0.25">14.64 m<tspan dx="-1.2">²</tspan></text>
<text transform="translate(604 442.7)" font-size="16" font-weight="bold" text-anchor="start" fill="#050505" stroke="#050505" stroke-width="0.25">Flur</text>
<text transform="translate(604 461.7)" font-size="16" font-weight="bold" text-anchor="start" fill="#050505" stroke="#050505" stroke-width="0.25">4.84 m<tspan dx="-1.2">²</tspan></text>
<text transform="translate(574 600.3)" font-size="16" font-weight="bold" text-anchor="start" fill="#050505" stroke="#050505" stroke-width="0.25">Kochen</text>
<text transform="translate(574 619.3)" font-size="16" font-weight="bold" text-anchor="start" fill="#050505" stroke="#050505" stroke-width="0.25">6.45 m<tspan dx="-1.2">²</tspan></text>
<text transform="translate(674.2 600.3)" font-size="16" font-weight="bold" text-anchor="start" fill="#050505" stroke="#050505" stroke-width="0.25">Bad</text>
<text transform="translate(674.2 619.3)" font-size="16" font-weight="bold" text-anchor="start" fill="#050505" stroke="#050505" stroke-width="0.25">3.63 m<tspan dx="-1.2">²</tspan></text>
<text transform="translate(841.4 600.3)" font-size="16" font-weight="bold" text-anchor="start" fill="#050505" stroke="#050505" stroke-width="0.25">Wohnen</text>
<text transform="translate(841.4 619.3)" font-size="16" font-weight="bold" text-anchor="start" fill="#050505" stroke="#050505" stroke-width="0.25">17.07 m<tspan dx="-1.2">²</tspan></text>
</g>
</defs>
</svg>
<div id="bg"><svg viewBox="470 0 572 850" preserveAspectRatio="none"><rect x="470" y="0" width="572" height="850" fill="#fff"/><use href="#plan"/></svg></div>
<div id="fg"><svg width="572" height="850" viewBox="470 0 572 850"><use href="#plan"/></svg></div>
</body></html>
